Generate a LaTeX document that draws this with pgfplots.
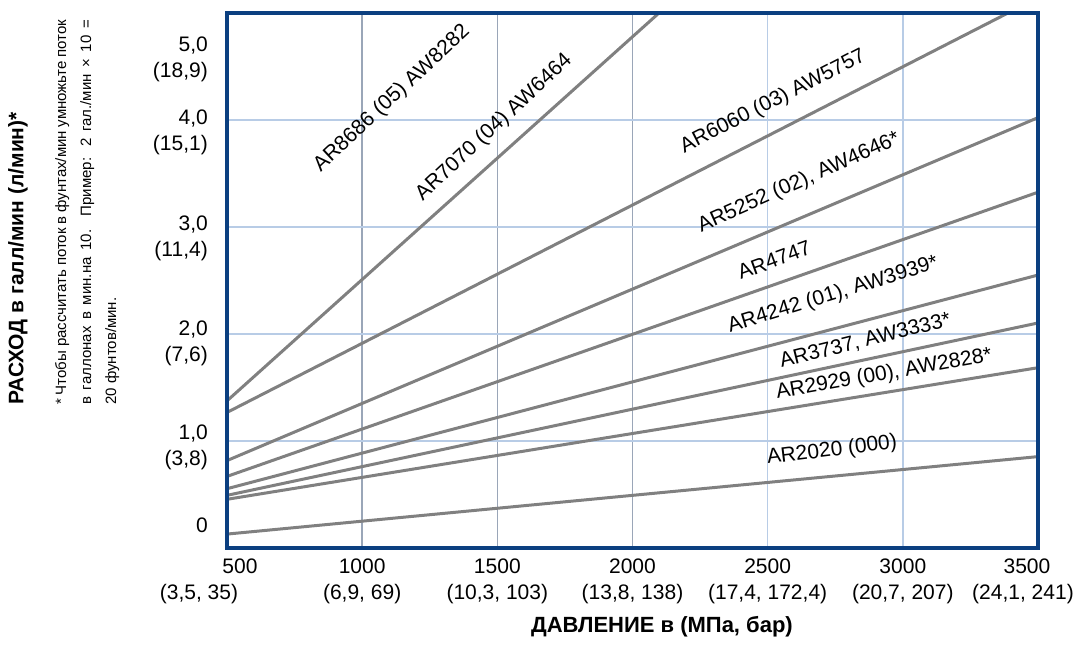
\documentclass[border=0pt]{standalone}
\usepackage{fontspec}
\setmainfont{Liberation Sans}
\usepackage{pgfplots}
\pgfplotsset{compat=1.18}

\definecolor{frameblue}{HTML}{0B3F80}
\definecolor{gridA}{HTML}{9AA6B8}
\definecolor{gridB}{HTML}{B8CCE6}
\definecolor{lineg}{HTML}{808080}

\newcommand{\sh}[2]{\makebox[0pt]{\hspace{#1}#2}}

\begin{document}
\begin{tikzpicture}
% page = the reference's frame, axis box starts at (0,0)
\useasboundingbox (-227pt,-97pt) rectangle (850pt,548pt);
\begin{axis}[
    name=ax,
    at={(0,0)}, anchor=south west,
    scale only axis,
    width=811pt, height=535pt,
    xmin=500, xmax=3500, ymin=0, ymax=5,
    clip=false,
    axis line style={draw=none},
    tick style={draw=none},
    ticklabel style={font=\fontsize{21}{26}\selectfont, inner sep=0pt},
    xtick={500,1000,1500,2000},
    xticklabels={{\sh{26pt}{500}\\\sh{-56pt}{(3,5, 35)}},{1000\\(6,9, 69)},{1500\\(10,3, 103)},{2000\\(13,8, 138)}},
    extra x ticks={2500,3000,3500},
    extra x tick labels={{2500\\(17,4, 172,4)},{3000\\(20,7, 207)},{\sh{-22pt}{3500}\\\sh{-30pt}{(24,1, 241)}}},
    xmajorgrids,
    major grid style={gridA, line width=1.5pt},
    extra x tick style={grid=major, major grid style={gridB, line width=1.5pt}},
    xticklabel style={align=center, anchor=north, yshift=-11pt},
    ytick={0.211,0.945,1.912,2.890,3.889,4.571},
    yticklabels={{0},{1,0\\(3,8)},{2,0\\(7,6)},{3,0\\(11,4)},{4,0\\(15,1)},{5,0\\(18,9)}},
    yticklabel style={align=right, anchor=east, xshift=-19pt},
    extra y ticks={1,2,3,4},
    extra y tick labels={},
    extra y tick style={grid=major, major grid style={gridB, line width=1.5pt}},
]
% AR7070 (04) AW6464
\addplot[lineg, line width=3pt] coordinates {(500,1.375) (2098,5)};
% AR6060 (03) AW5757
\addplot[lineg, line width=3pt] coordinates {(500,1.267) (3389,5)};
% AR5252 (02), AW4646*
\addplot[lineg, line width=3pt] coordinates {(500,0.817) (3500,4.022)};
% AR4747
\addplot[lineg, line width=3pt] coordinates {(500,0.669) (3500,3.325)};
% AR4242 (01), AW3939*
\addplot[lineg, line width=3pt] coordinates {(500,0.554) (3500,2.551)};
% AR3737, AW3333*
\addplot[lineg, line width=3pt] coordinates {(500,0.492) (3500,2.103)};
% AR2929 (00), AW2828*
\addplot[lineg, line width=3pt] coordinates {(500,0.455) (3500,1.685)};
% AR2020 (000)
\addplot[lineg, line width=3pt] coordinates {(500,0.130) (3500,0.854)};

\begin{scope}[font=\fontsize{21}{26}\selectfont]
\node[rotate=43] at (axis cs:1110,4.20) {AR8686 (05) AW8282};
\node[rotate=43] at (axis cs:1488,3.93) {AR7070 (04) AW6464};
\node[rotate=27] at (axis cs:2520,4.17) {AR6060 (03) AW5757};
\node[rotate=24] at (axis cs:2616,3.415) {AR5252 (02), AW4646*};
\node[rotate=20] at (axis cs:2524,2.69) {AR4747};
\node[rotate=17] at (axis cs:2742,2.365) {AR4242 (01), AW3939*};
\node[rotate=14] at (axis cs:2861,1.935) {AR3737, AW3333*};
\node[rotate=10] at (axis cs:2931,1.62) {AR2929 (00), AW2828*};
\node[rotate=7] at (axis cs:2738,0.91) {AR2020 (000)};
\end{scope}

\draw[frameblue, line width=3.5pt] (rel axis cs:0,0) rectangle (rel axis cs:1,1);
\end{axis}

\node[font=\bfseries\fontsize{22}{26}\selectfont] at ([xshift=435pt,yshift=-79pt]ax.south west) {ДАВЛЕНИЕ в (МПа, бар)};
\node[rotate=90, anchor=west, inner sep=0pt, font=\bfseries\fontsize{21}{25}\selectfont] at ([xshift=-209pt,yshift=143pt]ax.south west) {РАСХОД в галл/мин (л/мин)*};
\node[rotate=90, anchor=north west, inner sep=0pt, align=left, font=\fontsize{15}{25}\selectfont] at ([xshift=-172pt,yshift=143pt]ax.south west)
  {\makebox[385pt][s]{* Чтобы рассчитать поток в фунтах/мин умножьте поток}\\
   \makebox[385pt][s]{в галлонах в мин.на 10. Пример: 2 гал./мин × 10 =}\\
   20 фунтов/мин.};
\end{tikzpicture}
\end{document}
